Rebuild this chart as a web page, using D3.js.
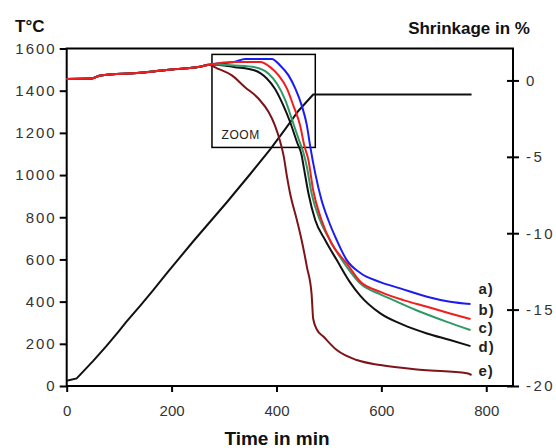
<!DOCTYPE html>
<html>
<head>
<meta charset="utf-8">
<script src="https://cdn.jsdelivr.net/npm/d3@7"></script>
<style>
body { margin: 0; background: #fff; }
text { font-family: "Liberation Sans", Arial, sans-serif; }
</style>
</head>
<body>
<script>
// furnace temperature (left axis)
const tempTime = [0, 19, 29, 51, 76, 98, 114, 140, 165, 191, 241, 305, 350, 388, 416, 442, 470, 772];
const tempValue = [25, 36, 62, 120, 190, 255, 305, 380, 455, 535, 685, 870, 1005, 1122, 1215, 1305, 1382, 1382];

// shrinkage curves (right axis), [time, %]
const shrinkStart = [[0, 0.1], [48, 0.12], [64, 0.33], [140, 0.5], [200, 0.72], [254, 0.9], [275, 1.05]];
const shrinkA = [[321, 1.22], [340, 1.41], [391, 1.41], [407, 0.98], [423, 0.33], [436, -0.54], [448, -1.63], [458, -2.94], [464, -4.25], [474, -6.1], [486, -7.84], [499, -9.15], [515, -10.46], [534, -11.76], [560, -12.6], [598, -13.2], [636, -13.61], [687, -14.16], [731, -14.49], [770, -14.64]];
const shrinkB = [[321, 1.2], [369, 1.2], [388, 0.87], [404, 0.33], [420, -0.54], [432, -1.63], [445, -2.94], [453, -4.25], [461, -5.23], [470, -7.19], [486, -9.15], [505, -10.67], [534, -11.98], [560, -13.18], [598, -13.84], [642, -14.38], [687, -14.81], [731, -15.25], [770, -15.62]];
const shrinkC = [[321, 0.98], [359, 0.87], [385, 0.44], [401, -0.22], [417, -1.31], [429, -2.5], [442, -3.81], [451, -4.69], [458, -5.67], [467, -7.4], [483, -9.15], [502, -10.46], [534, -12.2], [560, -13.3], [598, -14.0], [623, -14.38], [674, -15.14], [725, -15.8], [770, -16.34]];
const shrinkD = [[321, 0.87], [359, 0.65], [382, 0.11], [397, -0.54], [413, -1.63], [426, -2.72], [439, -4.03], [448, -4.9], [452, -5.67], [461, -7.4], [474, -9.15], [493, -10.46], [515, -11.76], [540, -13.2], [560, -14.1], [598, -15.25], [642, -16.0], [687, -16.56], [731, -16.99], [770, -17.39]];
const shrinkE = [[270, 1.02], [289, 0.76], [315, 0.33], [340, -0.44], [366, -1.2], [385, -2.07], [397, -2.94], [407, -4.0], [414, -5.0], [420, -6.3], [426, -7.4], [439, -9.15], [448, -10.46], [458, -12.2], [467, -14.0], [470, -15.6], [477, -16.3], [490, -16.78], [515, -17.65], [553, -18.3], [598, -18.63], [680, -18.95], [763, -19.17], [772, -19.28]];

const seriesLabels = ['a)', 'b)', 'c)', 'd)', 'e)'];
const timeTicks = [0, 200, 400, 600, 800];
const tempTicks = [0, 200, 400, 600, 800, 1000, 1200, 1400, 1600];
const shrinkTicks = [0, -5, -10, -15, -20];
const zoomTime = [277, 474];
const zoomTemp = [1131, 1572];

let margin = {top: 48.5, right: 43, bottom: 62, left: 66.7},
    width = 556 - margin.left - margin.right,
    height = 448 - margin.top - margin.bottom;

let svg = d3.select('body').append('svg')
    .attr('width', width + margin.left + margin.right)
    .attr('height', height + margin.top + margin.bottom);

let g = svg.append('g')
    .attr('transform', 'translate(' + margin.left + ',' + margin.top + ')');

const x = d3.scaleLinear().domain([0, 851]).range([0, width]);
const yT = d3.scaleLinear().domain([0, 1600]).range([height, 0]);
const yS = d3.scaleLinear().domain([-20, 2.09]).range([height, 0]);

// axes
let axL = g.append('g')
    .call(d3.axisLeft(yT).tickValues(tempTicks).tickFormat(d => String(d))
        .tickSize(7).tickPadding(3).tickSizeOuter(0));
let axB = g.append('g').attr('transform', `translate(0, ${height})`)
    .call(d3.axisBottom(x).tickValues(timeTicks).tickFormat(d => String(d))
        .tickSize(6).tickPadding(13).tickSizeOuter(0));
let axR = g.append('g').attr('transform', `translate(${width}, 0)`)
    .call(d3.axisRight(yS).tickValues(shrinkTicks).tickFormat(d => String(d))
        .tickSize(6).tickPadding(7).tickSizeOuter(0));
axR.selectAll('.tick line').attr('x1', -6);

[axL, axB, axR].forEach(a => {
    a.select('.domain').remove();
    a.selectAll('.tick line').attr('stroke', '#000').attr('stroke-width', 2);
    a.selectAll('.tick text').attr('fill', '#333').style('font-size', '15px');
});
axL.selectAll('.tick text').style('letter-spacing', '2px');
axR.selectAll('.tick text').style('letter-spacing', '2.5px');

g.append('rect')
    .attr('width', width).attr('height', height)
    .attr('fill', 'none').attr('stroke', '#000').attr('stroke-width', 2);

// zoom frame
g.append('rect')
    .attr('x', x(zoomTime[0])).attr('y', yT(zoomTemp[1]))
    .attr('width', x(zoomTime[1]) - x(zoomTime[0]))
    .attr('height', yT(zoomTemp[0]) - yT(zoomTemp[1]))
    .attr('fill', 'none').attr('stroke', '#000').attr('stroke-width', 1.5);
g.append('text').text('ZOOM')
    .attr('x', x(zoomTime[0]) + 9.5)
    .attr('y', yT(zoomTemp[0]) - 8)
    .attr('fill', '#222')
    .style('font-size', '12px')
    .style('letter-spacing', '0.6px');

// temperature line
let tempLine = d3.line().x(d => x(d[0])).y(d => yT(d[1]));
g.append('path')
    .attr('d', tempLine(d3.zip(tempTime, tempValue)))
    .attr('fill', 'none').attr('stroke', '#111').attr('stroke-width', 2);

// shrinkage lines
let sLine = d3.line().curve(d3.curveMonotoneX).x(d => x(d[0])).y(d => yS(d[1]));
let series = [
    {key: 'a', pts: shrinkStart.concat(shrinkA), color: '#1c1cf2', dy: -15},
    {key: 'd', pts: shrinkStart.concat(shrinkD), color: '#111111', dy: 1},
    {key: 'c', pts: shrinkStart.concat(shrinkC), color: '#2f9a68', dy: -2},
    {key: 'e', pts: shrinkStart.slice(0, 6).concat(shrinkE), color: '#7d1518', dy: -4},
    {key: 'b', pts: shrinkStart.concat(shrinkB), color: '#f01e1e', dy: -9}
];
series.forEach(s => {
    g.append('path')
        .attr('d', sLine(s.pts))
        .attr('fill', 'none').attr('stroke', s.color).attr('stroke-width', 2);
});

// end labels
let order = ['a', 'b', 'c', 'd', 'e'];
order.forEach((k, i) => {
    let s = series.find(d => d.key === k);
    let last = s.pts[s.pts.length - 1];
    g.append('text').text(seriesLabels[i])
        .attr('x', x(770) + 8)
        .attr('y', yS(last[1]) + s.dy)
        .attr('dy', '0.35em')
        .attr('fill', '#222')
        .style('font-size', '15px')
        .style('font-weight', 'bold')
        .style('letter-spacing', '1px');
});

// titles
svg.append('text').text('T°C')
    .attr('x', 15).attr('y', 32)
    .attr('fill', '#111')
    .style('font-size', '17px').style('font-weight', 'bold');
svg.append('text').text('Shrinkage in %')
    .attr('x', 530).attr('y', 34)
    .attr('text-anchor', 'end')
    .attr('fill', '#111')
    .style('font-size', '17px').style('font-weight', 'bold');
svg.append('text').text('Time in min')
    .attr('x', 277).attr('y', 445)
    .attr('text-anchor', 'middle')
    .attr('fill', '#111')
    .style('font-size', '19px').style('font-weight', 'bold');
</script>
</body>
</html>
